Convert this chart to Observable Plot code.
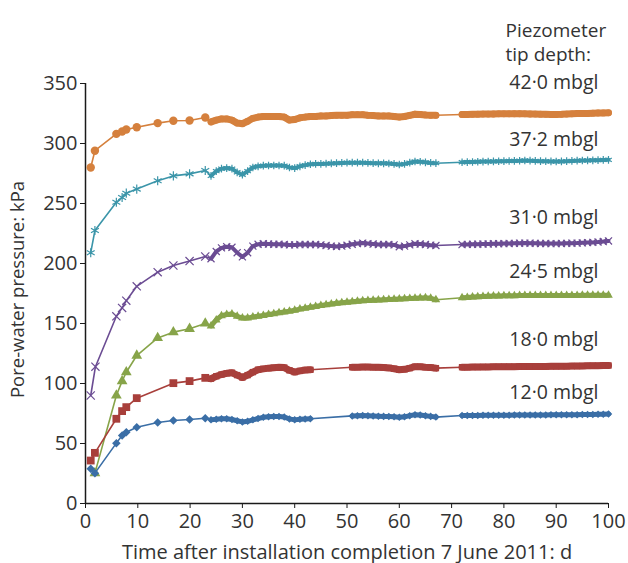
<!DOCTYPE html>
<html>
<head>
<meta charset="utf-8">
<script src="https://cdn.jsdelivr.net/npm/d3@7"></script>
<script src="https://cdn.jsdelivr.net/npm/@observablehq/plot@0.6"></script>
<style>
  body { margin: 0; background: #fff; }
  #chart svg { display: block; }
</style>
</head>
<body>
<div id="chart"></div>
<script>
// ---------- DATA ----------
const seriesNames = ["42·0 mbgl", "37·2 mbgl", "31·0 mbgl", "24·5 mbgl", "18·0 mbgl", "12·0 mbgl"];

// early manual readings [day, kPa]
const early42 = [[1,280],[1.8,294],[5.9,308],[7,310],[7.8,311.7],[9.8,313.6],[13.8,317],[16.8,319],[19.9,319.2],[22.9,321.7]];
const early37 = [[1,209],[1.8,227.5],[5.9,251],[7,255],[7.8,258.6],[9.8,262],[13.8,269],[16.8,273],[19.9,274.7],[22.9,277.5]];
const early31 = [[1,90],[1.9,114],[5.9,156],[7,163],[7.8,169],[9.8,181],[13.8,192.8],[16.8,198.3],[19.9,202],[22.9,205.8]];
const early24 = [[1.8,25.3],[5.9,90],[7,102],[7.8,109.4],[9.8,123.3],[13.8,138],[16.8,142.8],[19.9,145.6],[22.9,150]];
const early18 = [[1,35.8],[1.8,42.2],[5.9,70.6],[7,77],[7.8,80.3],[9.8,87.8],[16.8,100.3],[19.9,102],[22.9,104.7]];
const early12 = [[1,28.9],[1.8,25.3],[5.9,50.3],[7,56.7],[7.8,59.4],[9.8,63.6],[13.8,67.5],[16.8,69.2],[19.9,70],[22.9,71.1]];

// logger readings, daily, as [first day, values...]
const logger42 = [
  [24, [318,319.5,320.5,320.5,319.5,317,316.5,318.5,321,322,322.5,322.5,322.5,322.5,322,319.5,320,321.4,322,322.5,322.5,323,323,323.3,323.5,323.5,323.5,324,324,324,323.5,323.3,323,323,323,322.5,322,322.5,323.5,324.4,324.2,323.8,323.5,323.5]],
  [72, [324.2,324.2,324.3,324.4,324.5,324.5,324.6,324.7,324.7,324.7,324.8,324.8,324.7,324.6,324.5,324.4,324.3,324.2,324.2,324.3,324.5,324.7,324.9,325.0,325.1,325.3,325.4,325.5,325.6]]
];
const logger37 = [
  [24, [273,277,279,279.5,279,276,274,277,280,281,281.5,281.7,281.7,281.7,281.5,280,279.5,281,282,282.7,283,283,283.2,283.4,283.6,283.8,284,284,284,284,283.8,283.6,283.5,283.5,283.3,283,282.5,283,284,285,284.8,284.3,283.8,283.6]],
  [72, [284.4,284.5,284.6,284.8,284.9,285.0,285.1,285.2,285.3,285.4,285.5,285.6,285.8,285.7,285.5,285.3,285.2,285.1,285.0,285.1,285.3,285.5,285.7,285.8,285.9,286.0,286.1,286.3,286.4]]
];
const logger31 = [
  [24, [204,210,213,214,213.5,209,205.5,209,214.5,216,216.4,216.2,216,216,215.8,215.5,215.5,215.8,215.8,215.8,215.8,215.5,215,214.5,214.2,214.5,215.2,216,216.6,217,216.6,216.2,215.8,215.8,215.8,215.5,214,214.5,215.5,216.4,216.2,215.8,215.3,215]],
  [72, [215.8,215.9,216.0,216.1,216.2,216.3,216.4,216.5,216.6,216.7,216.8,216.9,217.0,216.9,216.8,216.7,216.7,216.6,216.6,216.7,216.8,216.9,217.0,217.2,217.4,217.6,217.9,218.3,218.8]]
];
const logger24 = [
  [24, [148,153,156.5,157.5,158,156,154.5,154.5,155.5,156,156.7,157.5,158.2,159,159.6,160.3,161,162,162.8,163.5,164.2,165,165.6,166.3,166.8,167.3,167.8,168.2,168.6,169,169.2,169.4,169.6,169.8,170,170.2,170.4,170.6,170.8,171,171.2,171.4,171,169.8]],
  [72, [171.4,171.7,172.0,172.3,172.5,172.7,172.9,173.0,173.1,173.2,173.2,173.3,173.3,173.3,173.3,173.3,173.3,173.3,173.3,173.4,173.4,173.4,173.4,173.5,173.5,173.5,173.5,173.5,173.5]]
];
const logger18 = [
  [24, [104,106,107.5,108.5,109,107,105,107,109.5,111.5,112.2,112.8,113.2,113.5,113.3,111,109.5,110.5,111.2,111.4]],
  [51, [113.6,113.6,113.7,113.7,113.6,113.5,113.3,113,112.3,111.5,111.8,112.8,114,114,113.6,113.3,112.8]],
  [72, [113.6,113.6,113.7,113.7,113.8,113.8,113.9,113.9,114.0,114.0,114.0,114.1,114.1,114.1,114.2,114.2,114.2,114.3,114.3,114.4,114.4,114.5,114.5,114.6,114.7,114.8,114.8,114.9,115.0]]
];
const logger12 = [
  [24, [69.7,70.2,70.6,70.6,70,69,68,68.5,69.7,70.8,71.8,72.2,72.5,72.5,72,70.5,69.7,70.2,70.5,70.6]],
  [51, [73,73.2,73.3,73.2,73,72.8,72.6,72.5,72.2,71.8,72.2,73.2,74,73.8,73.2,72.6,72]],
  [72, [73.3,73.3,73.4,73.4,73.5,73.5,73.5,73.6,73.6,73.6,73.7,73.7,73.7,73.8,73.8,73.8,73.8,73.9,73.9,73.9,74.0,74.0,74.0,74.1,74.1,74.2,74.3,74.4,74.5]]
];

// label placement (kPa) for each depth label
const labelKPa = [351, 303, 238, 193, 136.5, 92.5];
const headerLines = ["Piezometer", "tip depth:"];

const xTicks = [0, 10, 20, 30, 40, 50, 60, 70, 80, 90, 100];
const yTicks = [0, 50, 100, 150, 200, 250, 300, 350];

// ---------- STYLE ----------
const style = {
  colors:  ["#d5803d", "#3b95a9", "#6b4c93", "#87a449", "#a83f3b", "#3a6ea6"],
  symbols: ["circle", "asterisk", "times", "triangle", "square", "square"],
  rotate:  [0, 0, 0, 0, 0, 45],
  r:       [4.2, 4.3, 3.8, 4.0, 4.4, 3.4],
  rDense:  [3.4, 3.6, 3.3, 3.2, 3.6, 3.0],
  filled:  [true, false, false, true, true, true],
  band:    [7, 4, 4, 5, 7, 5]
};

// ---------- BUILD ROWS ----------
const earlyAll = [early42, early37, early31, early24, early18, early12];
const loggerAll = [logger42, logger37, logger31, logger24, logger18, logger12];

const rows = [];
seriesNames.forEach((name, i) => {
  earlyAll[i].forEach(([day, kPa]) => rows.push({series: name, day, kPa, seg: null}));
  loggerAll[i].forEach(([start, vals], s) => {
    vals.forEach((kPa, k) => rows.push({series: name, day: start + k, kPa, seg: name + "#" + s}));
  });
});

const marks = [
  Plot.ruleX([0], {stroke: "#1a1a1a", strokeWidth: 1.5}),
  Plot.ruleY([0], {stroke: "#1a1a1a", strokeWidth: 1.5})
];

seriesNames.forEach((name, i) => {
  const data = rows.filter(d => d.series === name);
  const c = style.colors[i];
  const dotOpts = (r) => ({
    x: "day", y: "kPa",
    symbol: style.symbols[i],
    r,
    rotate: style.rotate[i],
    fill: style.filled[i] ? c : "none",
    stroke: style.filled[i] ? "none" : c,
    strokeWidth: style.filled[i] ? 0 : 1.2
  });
  marks.push(Plot.line(data, {x: "day", y: "kPa", stroke: c, strokeWidth: 1.6}));
  marks.push(Plot.line(data.filter(d => d.seg), {x: "day", y: "kPa", z: "seg", stroke: c, strokeWidth: style.band[i], strokeLinecap: "round"}));
  marks.push(Plot.dot(data.filter(d => !d.seg), dotOpts(style.r[i])));
  marks.push(Plot.dot(data.filter(d => d.seg), dotOpts(style.rDense[i])));
});

// depth labels, anchored to the last reading day
const labelRows = seriesNames.map((name, i) => ({text: name, kPa: labelKPa[i], day: xTicks[xTicks.length - 1]}));
marks.push(Plot.text(labelRows, {x: "day", y: "kPa", text: "text", textAnchor: "end", dx: -10, fontSize: 19.5, fill: "#333"}));
// legend header above the frame
marks.push(Plot.text([headerLines[0]], {frameAnchor: "top-right", textAnchor: "start", dx: -103, dy: -60, fontSize: 19, fill: "#333"}));
marks.push(Plot.text([headerLines[1]], {frameAnchor: "top-right", textAnchor: "start", dx: -103, dy: -36, fontSize: 19, fill: "#333"}));
// y axis title
marks.push(Plot.text(["Pore-water pressure: kPa"], {frameAnchor: "left", rotate: -90, textAnchor: "middle", dx: -67, dy: -4, fontSize: 18.5, fill: "#333"}));

marks.push(Plot.axisX({ticks: xTicks, tickSize: 5, tickPadding: 5, stroke: "#1a1a1a", fill: "#333", fontSize: 20,
  label: "Time after installation completion 7 June 2011: d", labelAnchor: "center", labelArrow: "none", labelOffset: 55}));
marks.push(Plot.axisY({ticks: yTicks, tickSize: 5, tickPadding: 3, stroke: "#1a1a1a", fill: "#333", fontSize: 20,
  label: null}));

const chart = Plot.plot({
  width: 628,
  height: 563,
  marginTop: 83,
  marginRight: 20,
  marginBottom: 60,
  marginLeft: 85,
  style: {fontFamily: "'Open Sans', 'Noto Sans', sans-serif", fontSize: "20px", color: "#333", background: "#fff", overflow: "visible"},
  x: {domain: [0, 100]},
  y: {domain: [0, 350]},
  marks
});
document.getElementById("chart").appendChild(chart);
</script>
</body>
</html>
